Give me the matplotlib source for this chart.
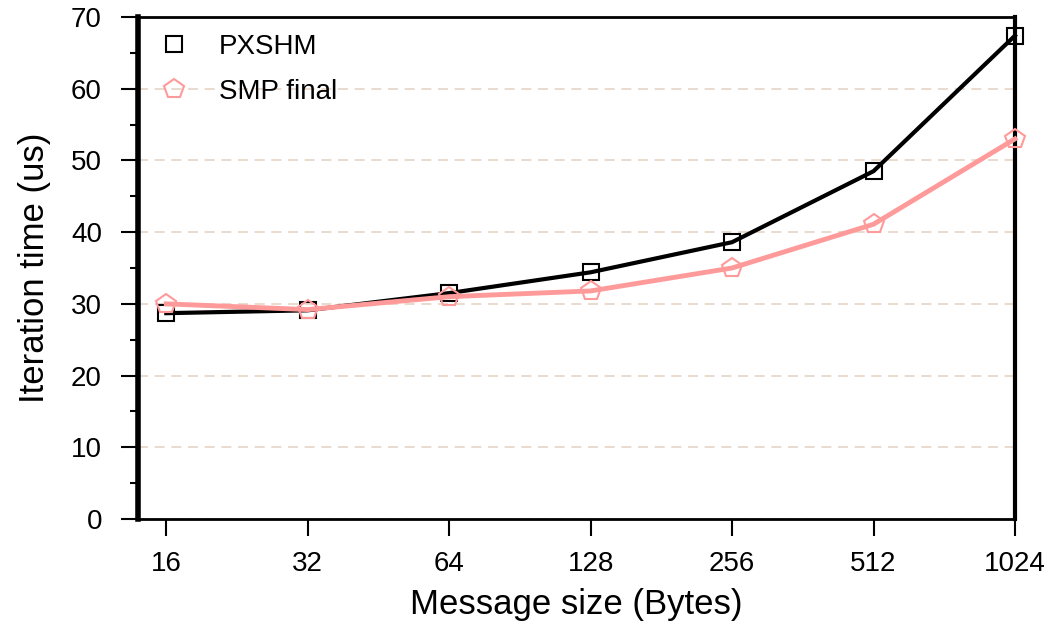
import matplotlib
matplotlib.use("Agg")
import matplotlib.pyplot as plt
from matplotlib.ticker import FixedLocator, NullLocator, MultipleLocator
from matplotlib.lines import Line2D

plt.rcParams["font.family"] = ["Liberation Sans", "DejaVu Sans"]

sizes = [16, 32, 64, 128, 256, 512, 1024]
pxshm = [28.7, 29.1, 31.5, 34.4, 38.6, 48.5, 67.4]
smp_final = [30.0, 29.2, 31.0, 31.8, 35.0, 41.1, 53.0]

BLACK = "#000000"
PINK = "#ff9a9a"
GRID = "#e6d4c6"

fig = plt.figure(figsize=(10.51, 6.28), dpi=100)
ax = fig.add_axes([0.1313, 0.1736, 0.8344, 0.7993])

ax.set_xscale("log", base=2)
ax.set_xlim(16 * 2 ** -0.2, 1024)
ax.set_ylim(0, 70)

ax.plot(sizes, pxshm, color=BLACK, lw=3, marker="s", ms=12, mfc="none",
        mec=BLACK, mew=1.5, clip_on=False, zorder=3)
ax.plot(sizes, smp_final, color=PINK, lw=3.5, marker="p", ms=15, mfc="none",
        mec=PINK, mew=1.5, clip_on=False, zorder=3)

ax.xaxis.set_major_locator(FixedLocator(sizes))
ax.xaxis.set_minor_locator(NullLocator())
ax.set_xticklabels([str(s) for s in sizes])
ax.yaxis.set_major_locator(MultipleLocator(10))
ax.yaxis.set_minor_locator(MultipleLocator(5))

ax.tick_params(axis="both", which="major", direction="out", length=12,
               width=1.5, labelsize=20)
ax.tick_params(axis="x", which="major", pad=11)
ax.tick_params(axis="y", which="major", pad=14)
ax.tick_params(axis="y", which="minor", direction="out", length=6, width=1.5)

ax.yaxis.grid(True, which="major", color=GRID, ls=(0, (6, 4)), lw=1.2)
ax.set_axisbelow(True)

ax.spines["left"].set_linewidth(4)
ax.spines["right"].set_linewidth(3)
ax.spines["top"].set_linewidth(2)
ax.spines["bottom"].set_linewidth(2)

ax.set_xlabel("Message size (Bytes)", fontsize=25, labelpad=8)
ax.set_ylabel("Iteration time (us)", fontsize=25, labelpad=14)

handles = [
    Line2D([], [], ls="none", marker="s", ms=12, mfc="none", mec=BLACK, mew=1.5),
    Line2D([], [], ls="none", marker="p", ms=15, mfc="none", mec=PINK, mew=1.5),
]
ax.legend(handles, ["PXSHM", "SMP final"], loc="upper left", frameon=False,
          fontsize=20, handletextpad=0.9, labelspacing=0.7, handlelength=1.4,
          borderaxespad=0.2, bbox_to_anchor=(0.0, 1.0))

fig.savefig("out.png", dpi=100)
